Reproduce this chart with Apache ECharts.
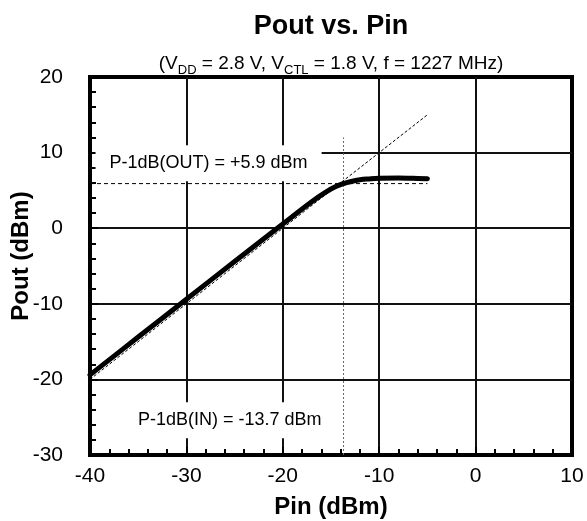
<!DOCTYPE html>
<html>
<head>
<meta charset="utf-8">
<script src="https://cdn.jsdelivr.net/npm/echarts@6/dist/echarts.min.js"></script>
<style>html,body{margin:0;padding:0;background:#fff;}#c{width:587px;height:521px;}</style>
</head>
<body>
<div id="c"></div>
<script>
// ---- data ----
const pinValues  = [-40, -35, -30, -25, -20, -17, -15.5, -14.5, -13.7, -13, -12, -11, -10, -8, -6.5, -5];
const poutValues = [-19.4, -14.4, -9.4, -4.4, 0.55, 3.5, 4.8, 5.5, 5.9, 6.15, 6.4, 6.52, 6.6, 6.65, 6.6, 6.55];
const linearPin  = [-40, -5];
const linearPout = [-20, 15];
const p1dbOut = 5.9;
const p1dbIn = -13.7;
const p1dbInTop = 12;
const xTicks = [-40, -30, -20, -10, 0, 10];
const yTicks = [-30, -20, -10, 0, 10, 20];
const outLabel = 'P-1dB(OUT) = +5.9 dBm';
const inLabel = 'P-1dB(IN) = -13.7 dBm';

const FONT = 'Liberation Sans, Arial, Helvetica, sans-serif';
const chart = echarts.init(document.getElementById('c'), null, {renderer: 'canvas'});

const curve = pinValues.map((x, i) => [x, poutValues[i]]);
const linear = linearPin.map((x, i) => [x, linearPout[i]]);
const hLine = [[linearPin[0], p1dbOut], [linearPin[1], p1dbOut]];
const vLine = [[p1dbIn, yTicks[0]], [p1dbIn, p1dbInTop]];

const axisCommon = {
  axisLine: {show: false, onZero: false},
  axisTick: {show: true, inside: true, length: 8, lineStyle: {color: '#000', width: 2}},
  minorTick: {show: true, splitNumber: 5, length: 6, lineStyle: {color: '#000', width: 2}},
  splitLine: {show: true, showMinLine: false, showMaxLine: false, lineStyle: {color: '#111', width: 2}}
};

const option = {
  animation: false,
  backgroundColor: '#fff',
  title: [
    {
      text: 'Pout vs. Pin',
      left: 331, top: 13, padding: 0, textAlign: 'center',
      textStyle: {fontFamily: FONT, fontSize: 27, fontWeight: 'bold', color: '#000'}
    },
    {
      text: '{m|(V}{s|DD}{m| = 2.8 V, V}{s|CTL}{m| = 1.8 V, f = 1227 MHz)}',
      left: 331, top: 51, padding: 0, textAlign: 'center',
      textStyle: {
        fontFamily: FONT, color: '#000', fontWeight: 'normal',
        rich: {
          m: {fontFamily: FONT, fontSize: 19, fontWeight: 'normal', lineHeight: 26, verticalAlign: 'middle', color: '#000'},
          s: {fontFamily: FONT, fontSize: 13, fontWeight: 'normal', lineHeight: 13, verticalAlign: 'bottom', color: '#000'}
        }
      }
    }
  ],
  grid: {left: 90, right: 15, top: 77, bottom: 66, show: true, borderColor: '#000', borderWidth: 4,
         backgroundColor: 'transparent', containLabel: false, outerBoundsMode: 'none'},
  xAxis: Object.assign({
    type: 'value', min: xTicks[0], max: xTicks[xTicks.length - 1], interval: 10,
    name: 'Pin (dBm)', nameLocation: 'middle', nameGap: 40, nameMoveOverlap: false,
    nameTextStyle: {fontFamily: FONT, fontSize: 24, fontWeight: 'bold', color: '#000'},
    axisLabel: {fontFamily: FONT, fontSize: 21, color: '#000', margin: 11}
  }, axisCommon),
  yAxis: Object.assign({
    type: 'value', min: yTicks[0], max: yTicks[yTicks.length - 1], interval: 10,
    name: 'Pout (dBm)', nameLocation: 'middle', nameGap: 57, nameMoveOverlap: false,
    nameTextStyle: {fontFamily: FONT, fontSize: 24, fontWeight: 'bold', color: '#000', padding: [0, 0, 0, 20]},
    axisLabel: {fontFamily: FONT, fontSize: 21, color: '#000', margin: 27}
  }, axisCommon),
  series: [
    {
      type: 'scatter', z: 3, symbolSize: 0, itemStyle: {color: '#fff', opacity: 1},
      silent: true,
      data: [
        {value: [-27.7, 8.6], label: {formatter: outLabel}},
        {value: [-25.5, -25.4], label: {formatter: inLabel}}
      ],
      label: {show: true, position: 'inside', fontFamily: FONT, fontSize: 18, color: '#000',
              textBorderWidth: 0, textBorderColor: 'transparent', opacity: 1,
              backgroundColor: '#fff', padding: [9, 14]}
    },
    {
      type: 'line', z: 4, data: linear, showSymbol: false, symbol: 'none',
      lineStyle: {color: '#000', width: 1, type: [3, 2]}
    },
    {
      type: 'line', z: 4, data: hLine, showSymbol: false, symbol: 'none',
      lineStyle: {color: '#000', width: 1, type: [4, 3]}
    },
    {
      type: 'line', z: 4, data: vLine, showSymbol: false, symbol: 'none',
      lineStyle: {color: '#666', width: 1, type: [2, 2]}
    },
    {
      type: 'line', z: 5, data: curve, showSymbol: false, symbol: 'none',
      smooth: 0.4,
      lineStyle: {color: '#000', width: 5, cap: 'round', join: 'round'}
    }
  ]
};
chart.setOption(option);
</script>
</body>
</html>
